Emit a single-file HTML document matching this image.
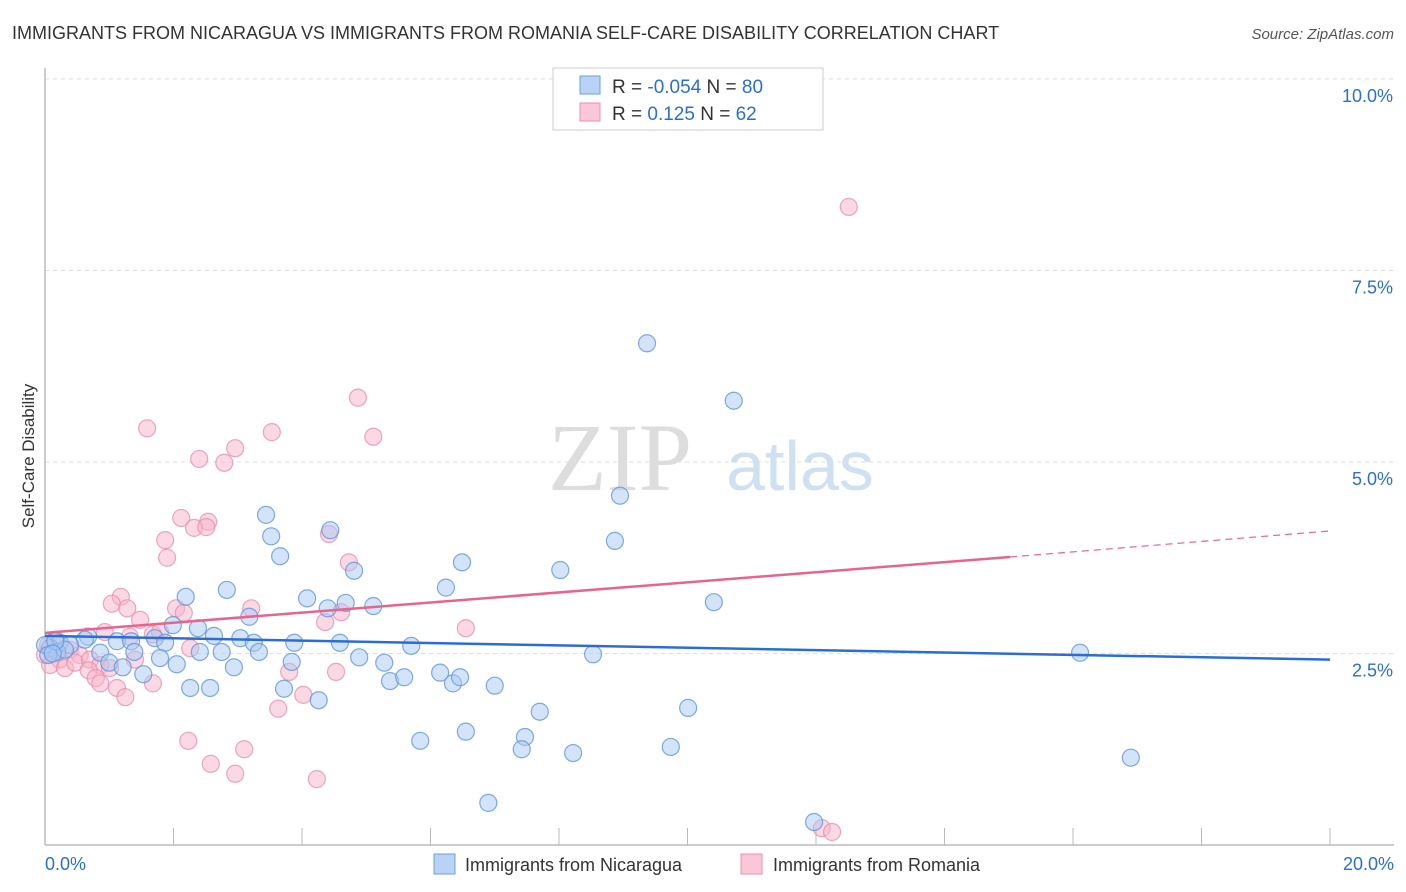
<!DOCTYPE html>
<html><head><meta charset="utf-8"><style>
body{margin:0;background:#fff;font-family:"Liberation Sans",sans-serif}
svg{display:block}
</style></head><body>
<svg id="chart" width="1406" height="892" xmlns="http://www.w3.org/2000/svg">
<text x="12" y="39" font-size="18" fill="#333">IMMIGRANTS FROM NICARAGUA VS IMMIGRANTS FROM ROMANIA SELF-CARE DISABILITY CORRELATION CHART</text>
<text x="1394" y="39" font-size="15" fill="#555" font-style="italic" text-anchor="end">Source: ZipAtlas.com</text>
<text x="620" y="490" font-size="96" fill="#ddd" font-family="Liberation Serif,serif" text-anchor="middle">ZIP</text>
<text x="800" y="490" font-size="70" fill="#cfe0f3" text-anchor="middle">atlas</text>
<text transform="translate(34,456) rotate(-90)" font-size="17" fill="#333" text-anchor="middle">Self-Care Disability</text>
<g id="grid"></g><g id="pts"></g><g id="trend"></g>
<g>
<rect x="553" y="68" width="270" height="62" fill="#fff" stroke="#ccc"/>
<rect x="580" y="76" width="20" height="18" fill="#b8d3f5" stroke="#6a9fe0"/>
<rect x="580" y="103" width="20" height="18" fill="#fbc6d6" stroke="#e890ae"/>
<text x="612" y="93" font-size="19" fill="#333">R = <tspan fill="#2a6ed4">-0.054</tspan>   N = <tspan fill="#2a6ed4">80</tspan></text>
<text x="612" y="120" font-size="19" fill="#333">R =   <tspan fill="#2a6ed4">0.125</tspan>   N = <tspan fill="#2a6ed4">62</tspan></text>
</g>
<g>
<rect x="434" y="854" width="21" height="20" fill="#b8d3f5" stroke="#6a9fe0"/>
<text x="465" y="871" font-size="18" fill="#333">Immigrants from Nicaragua</text>
<rect x="741" y="854" width="21" height="20" fill="#fbc6d6" stroke="#e890ae"/>
<text x="773" y="871" font-size="18" fill="#333">Immigrants from Romania</text>
</g>
</svg>
<script>
const xTickVals=[0,2,4,6,8,10,12,14,16,18,20];
const yTickVals=[2.5,5,7.5,10];
const yTickLabels=["2.5%","5.0%","7.5%","10.0%"];
const xLabels=["0.0%","20.0%"];
const nicX=[9.37,10.72,8.95,3.44,3.52,4.44,8.87,3.66,6.49,4.81,8.02,6.24,2.83,2.19,4.08,10.41,5.11,4.68,4.40,3.18,1.99,2.38,2.63,3.04,3.88,4.59,5.70,3.25,1.12,1.34,0.67,0.62,1.71,1.87,0.23,0.08,0.39,0.19,0.31,16.11,8.53,0.86,1.39,2.41,2.75,3.33,4.89,1.79,2.05,3.84,5.28,1.00,1.21,2.94,1.53,5.37,5.59,6.15,6.35,6.46,7.00,2.26,2.57,3.72,4.26,7.70,10.01,5.84,6.55,7.47,7.42,8.22,9.74,16.90,6.90,11.97,0.00,0.05,0.16,0.12];
const nicY=[6.55,5.80,4.56,4.31,4.03,4.11,3.97,3.77,3.69,3.58,3.59,3.36,3.33,3.24,3.22,3.17,3.12,3.16,3.09,2.98,2.87,2.83,2.73,2.70,2.64,2.64,2.60,2.64,2.66,2.66,2.72,2.68,2.70,2.64,2.64,2.57,2.61,2.52,2.55,2.51,2.49,2.51,2.52,2.52,2.52,2.52,2.45,2.44,2.36,2.39,2.38,2.38,2.32,2.32,2.23,2.14,2.19,2.25,2.11,2.19,2.08,2.05,2.05,2.04,1.89,1.74,1.79,1.36,1.48,1.41,1.25,1.20,1.28,1.14,0.55,0.30,2.61,2.48,2.66,2.50];
const romX=[12.51,4.87,5.11,1.59,3.53,2.96,2.40,2.79,2.12,2.54,2.32,2.51,4.42,1.87,1.90,4.73,1.18,1.04,1.28,2.04,2.16,3.21,4.61,1.48,4.36,0.93,1.68,1.79,6.55,1.32,2.26,0.39,0.54,0.12,0.23,0.00,0.08,0.31,0.47,0.70,0.86,0.68,1.01,1.40,0.05,3.80,4.53,0.79,0.86,1.12,1.68,1.25,4.02,3.63,2.23,3.10,2.58,2.96,4.23,12.09,12.25,0.16];
const romY=[8.33,5.84,5.33,5.44,5.39,5.18,5.04,4.99,4.27,4.22,4.14,4.15,4.06,3.98,3.75,3.69,3.24,3.15,3.09,3.09,3.03,3.09,3.04,2.94,2.91,2.78,2.75,2.78,2.83,2.72,2.57,2.55,2.48,2.52,2.42,2.48,2.35,2.31,2.38,2.42,2.35,2.28,2.31,2.42,2.61,2.26,2.26,2.18,2.11,2.05,2.11,1.93,1.96,1.78,1.36,1.25,1.06,0.93,0.86,0.22,0.17,2.68];
const nicTrend=[2.73,2.42];
const romTrend=[2.77,3.76,4.10];
const romSolidEnd=15.02;

const NS="http://www.w3.org/2000/svg";
const X=v=>45+v*64.25, Y=v=>845-v*76.6;
function mk(tag,attrs,parent){const e=document.createElementNS(NS,tag);for(const k in attrs)e.setAttribute(k,attrs[k]);parent.appendChild(e);return e;}
const grid=document.getElementById('grid'),pts=document.getElementById('pts'),tr=document.getElementById('trend');
yTickVals.forEach((v,i)=>{
  const l=mk('line',{x1:45,x2:1394,y1:Y(v),y2:Y(v),stroke:'#ddd','stroke-dasharray':'4,4'},grid);
  
  
  const t=mk('text',{x:1393,y:Y(v)+23,'font-size':18,fill:'#2a6ed4','text-anchor':'end'},grid);
  t.textContent=yTickLabels[i];
  
  
});
const ax=mk('line',{x1:45,x2:45,y1:68,y2:845,stroke:'#bbb','stroke-width':1.5},grid);


const bx=mk('line',{x1:45,x2:1394,y1:845,y2:845,stroke:'#bbb','stroke-width':1.5},grid);


xTickVals.forEach(v=>{
  const t=mk('line',{x1:X(v),x2:X(v),y1:828,y2:845,stroke:'#bbb'},grid);
  
  
});
[[0,'start',xLabels[0]],[20,'end',xLabels[1]]].forEach(a=>{
  const t=mk('text',{x:a[0]===0?45:1394,y:870,'font-size':18,fill:'#2a6ed4','text-anchor':a[1]},grid);
  t.textContent=a[2];
  
  
});
function dots(xs,ys,fill,stroke,name){xs.forEach((x,i)=>{
  const c=mk('circle',{cx:X(x),cy:Y(ys[i]),r:8.5,fill:fill,'fill-opacity':0.5,stroke:stroke,'stroke-width':1.2,'stroke-opacity':0.8},pts);
  
  
});}
dots(romX,romY,'#f7b3c9','#e890ae','romania-point');
dots(nicX,nicY,'#a9c9f2','#5f95dd','nicaragua-point');
const bl=mk('line',{x1:X(0),y1:Y(nicTrend[0]),x2:X(20),y2:Y(nicTrend[1]),stroke:'#2a6ed4','stroke-width':2.5},tr);


const pl=mk('line',{x1:X(0),y1:Y(romTrend[0]),x2:X(romSolidEnd),y2:Y(romTrend[1]),stroke:'#e8648e','stroke-width':2.5},tr);


const pd=mk('line',{x1:X(romSolidEnd),y1:Y(romTrend[1]),x2:X(20),y2:Y(romTrend[2]),stroke:'#e8648e','stroke-width':1.2,'stroke-dasharray':'7,5'},tr);


</script>
</body></html>
